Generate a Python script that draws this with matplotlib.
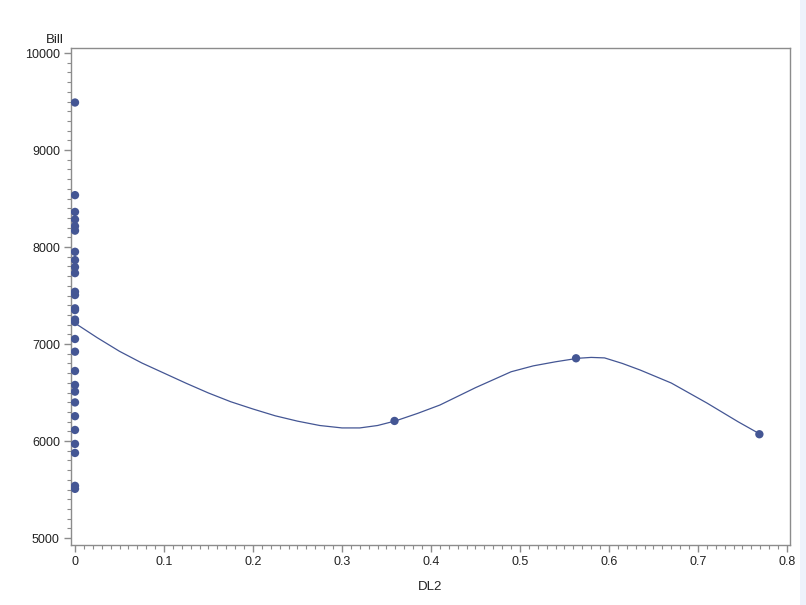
import matplotlib
matplotlib.use("Agg")
import matplotlib.pyplot as plt
from matplotlib.ticker import MultipleLocator
from matplotlib.patches import Rectangle

# Observed points
dl2_zero_bill = [9490, 8535, 8362, 8284, 8215, 8169, 7951, 7865, 7793, 7731,
                 7539, 7505, 7368, 7350, 7252, 7227, 7052, 6921, 6722, 6578,
                 6509, 6398, 6256, 6114, 5970, 5877, 5538, 5507]
other_dl2 = [0.359, 0.563, 0.769]
other_bill = [6207, 6853, 6070]

# Smooth fit curve
curve_x = [0, 0.025, 0.05, 0.075, 0.1, 0.125, 0.15, 0.175, 0.2, 0.225, 0.25,
           0.275, 0.3, 0.32, 0.34, 0.36, 0.385, 0.41, 0.45, 0.49, 0.515, 0.54,
           0.565, 0.58, 0.595, 0.615, 0.635, 0.67, 0.71, 0.745, 0.77]
curve_y = [7215, 7065, 6925, 6805, 6700, 6595, 6495, 6405, 6330, 6260, 6205,
           6160, 6135, 6135, 6160, 6207, 6285, 6371, 6550, 6714, 6775, 6817,
           6853, 6862, 6857, 6800, 6732, 6598, 6392, 6199, 6070]

plt.rcParams['font.family'] = ['Liberation Sans', 'DejaVu Sans']

color = '#445694'
axis_gray = '#8c8c8c'

fig = plt.figure(figsize=(8.06, 6.05), dpi=100)
fig.patches.append(Rectangle((800/806, 0), 6/806, 1, transform=fig.transFigure,
                             facecolor='#eef2fb', edgecolor='none', zorder=-1))
ax = fig.add_axes([71/806, 1 - 545/605, (790-71)/806, (545-48)/605])

xs = [0.0] * len(dl2_zero_bill) + other_dl2
ys = dl2_zero_bill + other_bill
ax.plot(curve_x, curve_y, color=color, lw=0.9, zorder=2)
ax.scatter(xs, ys, s=36, color=color, edgecolors='none', zorder=3)

ax.set_xlim(-0.0045, 0.8034)
ax.set_ylim(4928, 10052)
ax.xaxis.set_major_locator(MultipleLocator(0.1))
ax.xaxis.set_minor_locator(MultipleLocator(0.01))
ax.yaxis.set_major_locator(MultipleLocator(1000))
ax.yaxis.set_minor_locator(MultipleLocator(100))
ax.set_xticks([0, 0.1, 0.2, 0.3, 0.4, 0.5, 0.6, 0.7, 0.8])
ax.set_xticklabels(['0', '0.1', '0.2', '0.3', '0.4', '0.5', '0.6', '0.7', '0.8'])

for s in ax.spines.values():
    s.set_color(axis_gray)
    s.set_linewidth(1.0)
ax.tick_params(which='major', length=5, width=1, color=axis_gray,
               labelsize=9, labelcolor='#222222', pad=3)
ax.tick_params(which='minor', length=3, width=0.8, color=axis_gray)

ax.set_xlabel('DL2', fontsize=9.5, color='#222222', labelpad=9)
fig.text(55/806, 1 - 40/605, 'Bill', fontsize=9.5, color='#222222',
         ha='center', va='center')

fig.savefig('out.png', dpi=100)
